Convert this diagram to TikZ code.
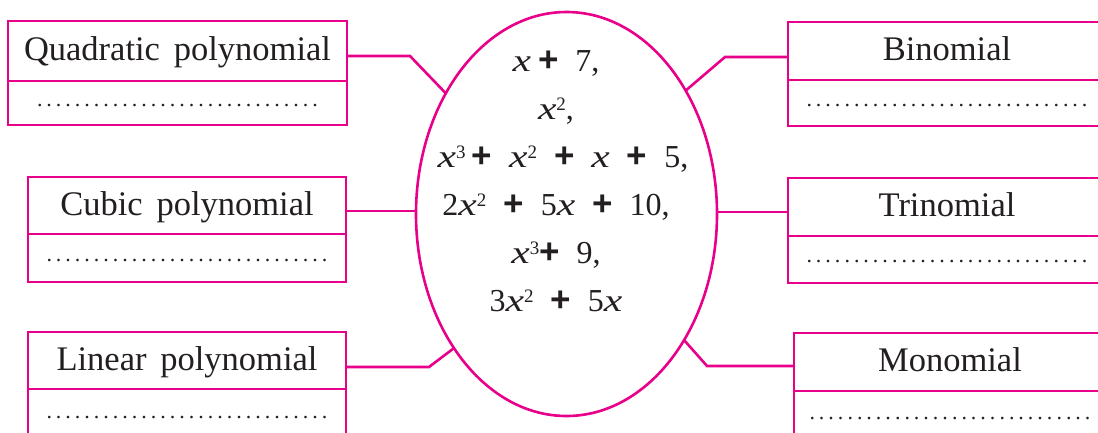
\documentclass[tikz,border=0pt]{standalone}
\usepackage{fontspec}
\usepackage{graphicx}
\setmainfont{Liberation Serif}[WordSpace=1.6]
\newfontfamily\plusfont{Liberation Sans}[UprightFont=*-Bold]
\usetikzlibrary{shapes.geometric}
\definecolor{linkpink}{HTML}{E8008A}
\definecolor{inkgray}{HTML}{231F20}
\newcommand\dotrow{\makebox[285pt]{\leaders\hbox to 9.5pt{\hss.\hss}\hfill}}
\newcommand\pl{{\plusfont\fontsize{35}{35}\selectfont +}}
\newcommand\vx{\scalebox{1.3}[1]{\textit{x}}}
\newcommand\sq[1]{\raisebox{8.5pt}{\fontsize{19}{19}\selectfont #1}}
\newcommand\gp{\hspace{17pt}}
\begin{document}
\begin{tikzpicture}[x=1pt,y=-1pt,
  frame/.style={draw=linkpink, line width=2.6pt, outer sep=0pt},
  titlebox/.style={frame, rectangle, inner sep=0pt, text height=23pt, text depth=4pt, font=\fontsize{34.5}{40}\selectfont, text=inkgray},
  dotbox/.style={frame, rectangle, inner sep=0pt, text height=6pt, text depth=0pt, font=\fontsize{22}{22}\selectfont, text=inkgray},
  link/.style={draw=linkpink, line width=2.6pt},
  ]
\useasboundingbox (0,0) rectangle (1098,432);
\clip (0,0) rectangle (1098,432);
\node[ellipse, draw=linkpink, line width=2.6pt, outer sep=0pt, minimum width=301pt, minimum height=404pt, inner sep=0pt] (e) at (566.5,214) {};
\node[text=inkgray, font=\fontsize{32}{48}\selectfont, align=center, anchor=north, inner sep=0pt] (poly) at (556,50) {%
\vx\hspace{7pt}\pl\gp 7,\\
\vx\sq{2},\\
\hspace{14pt}\vx\sq{3}\hspace{6pt}\pl\gp\vx\sq{2}\gp\pl\gp\vx\gp\pl\gp 5,\\
2\vx\sq{2}\gp\pl\gp 5\vx\gp\pl\gp 10,\\
\vx\sq{3}\pl\gp 9,\\
3\vx\sq{2}\gp\pl\gp 5\vx};
% left boxes
\node[titlebox, minimum width=339pt, minimum height=60pt] (q) at (177.5,51) {Quadratic polynomial};
\node[dotbox, minimum width=339pt, minimum height=44pt, anchor=north] (qd) at (q.south) {\dotrow};
\node[titlebox, minimum width=318pt, minimum height=57pt] (c) at (187,205.5) {Cubic polynomial};
\node[dotbox, minimum width=318pt, minimum height=48pt, anchor=north] (cd) at (c.south) {\dotrow};
\node[titlebox, minimum width=318pt, minimum height=57pt] (l) at (187,360.5) {Linear polynomial};
\node[dotbox, minimum width=318pt, minimum height=52pt, anchor=north] (ld) at (l.south) {\dotrow};
% right boxes
\node[titlebox, minimum width=318pt, minimum height=58pt] (b) at (947,51) {Binomial};
\node[dotbox, minimum width=318pt, minimum height=46pt, anchor=north] (bd) at (b.south) {\dotrow};
\node[titlebox, minimum width=318pt, minimum height=58pt] (t) at (947,207) {Trinomial};
\node[dotbox, minimum width=318pt, minimum height=47pt, anchor=north] (td) at (t.south) {\dotrow};
\node[titlebox, minimum width=312pt, minimum height=58pt] (m) at (950,362) {Monomial};
\node[dotbox, minimum width=312pt, minimum height=50pt, anchor=north] (md) at (m.south) {\dotrow};
% connectors
\coordinate (qk) at (410,56);
\coordinate (ck) at (0,211);
\coordinate (lk) at (429,367);
\coordinate (bk) at (725,57);
\coordinate (tk) at (0,212);
\coordinate (mk) at (707,366);
\draw[link] (q.east |- qk) -- (qk) -- (e.135);
\draw[link] (c.east |- ck) -- (e.west |- ck);
\draw[link] (l.east |- lk) -- (lk) -- (e.230);
\draw[link] (b.west |- bk) -- (bk) -- (e.46);
\draw[link] (t.west |- tk) -- (e.east |- tk);
\draw[link] (m.west |- mk) -- (mk) -- (e.-47);
\end{tikzpicture}
\end{document}
